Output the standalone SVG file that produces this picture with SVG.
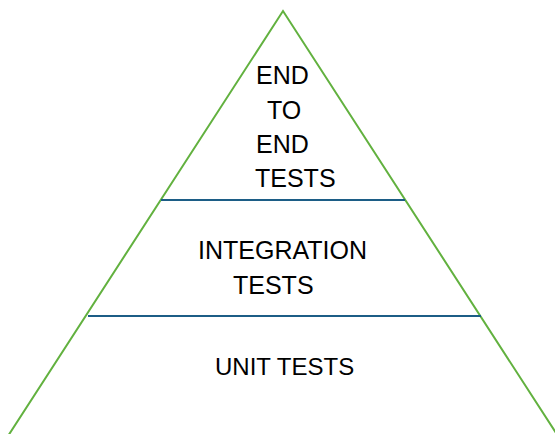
<svg xmlns="http://www.w3.org/2000/svg" width="555" height="434" viewBox="0 0 555 434">
<style>
.t{font-family:"Liberation Sans",Arial,sans-serif;font-size:25px;fill:#000}
.g{stroke:#62b13f;stroke-width:2;fill:none}
.b{stroke:#1c5d86;stroke-width:2}
</style>
<rect width="555" height="434" fill="#fff"/>
<g id="connectors">
<polyline class="g" points="8,436 283,11 558,436"/>
<line class="b" x1="161" y1="200" x2="405" y2="200"/>
<line class="b" x1="88" y1="316" x2="481" y2="316"/>
</g>
<g id="top"><text class="t" x="256" y="84">END</text><text class="t" x="267" y="119">TO</text><text class="t" x="256" y="153">END</text><text class="t" x="255" y="187">TESTS</text></g>
<g id="middle"><text class="t" x="198" y="259">INTEGRATION</text><text class="t" x="233" y="294">TESTS</text></g>
<g id="bottom"><text class="t" x="215" y="375" style="font-size:24px">UNIT TESTS</text></g>
</svg>
